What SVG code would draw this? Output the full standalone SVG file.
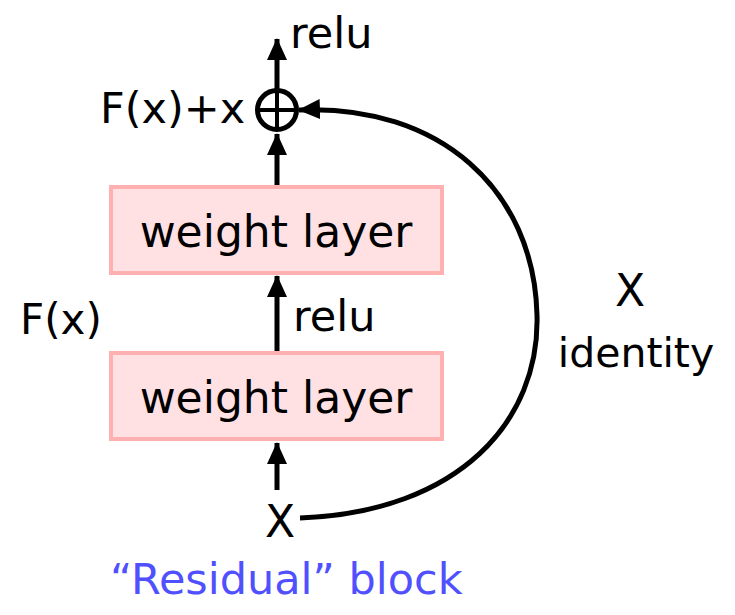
<svg xmlns="http://www.w3.org/2000/svg" width="735" height="615" viewBox="0 0 735 615">
<style>
.t{font-family:"DejaVu Sans","Noto Sans CJK KR",sans-serif;fill:#000}
.box{fill:#ffe1e3;stroke:#ffb1b1;stroke-width:4}
.ln{stroke:#000;stroke-width:5;fill:none}
</style>
<defs>
<marker id="ah" viewBox="0 0 22 20" refX="21" refY="10" markerWidth="22" markerHeight="20" markerUnits="userSpaceOnUse" orient="auto">
<path d="M0,0 L22,10 L0,20 Z" fill="#000"/>
</marker>
</defs>
<rect width="735" height="615" fill="#fff"/>
<g id="connectors">
<line class="ln" x1="277" y1="90" x2="277" y2="39" marker-end="url(#ah)"/>
<line class="ln" x1="277" y1="186" x2="277" y2="134" marker-end="url(#ah)"/>
<line class="ln" x1="277" y1="352" x2="277" y2="276" marker-end="url(#ah)"/>
<line class="ln" x1="277" y1="490" x2="277" y2="443" marker-end="url(#ah)"/>
<path class="ln" d="M300,518 C460,512 540,420 537,315 C534,190 440,104 299,110" marker-end="url(#ah)"/>
</g>
<g id="sum">
<circle cx="277" cy="110" r="19.5" fill="none" stroke="#000" stroke-width="5"/>
<line x1="258" y1="110" x2="296" y2="110" stroke="#000" stroke-width="4"/>
<line x1="277" y1="91" x2="277" y2="129" stroke="#000" stroke-width="4"/>
</g>
<g id="weight1">
<rect class="box" x="111" y="187" width="331" height="86"/>
<text class="t" x="276" y="247" font-size="44" text-anchor="middle">weight layer</text>
</g>
<g id="weight2">
<rect class="box" x="111" y="353" width="331" height="86"/>
<text class="t" x="276" y="413" font-size="44" text-anchor="middle">weight layer</text>
</g>
<g id="labels">
<text class="t" x="290" y="48" font-size="43">relu</text>
<text class="t" x="100" y="123" font-size="43">F(x)+x</text>
<text class="t" x="20" y="334" font-size="42">F(x)</text>
<text class="t" x="293" y="331" font-size="43">relu</text>
<text class="t" x="630" y="306" font-size="44" text-anchor="middle">X</text>
<text class="t" x="636" y="367" font-size="41" text-anchor="middle">identity</text>
<text class="t" x="280" y="537" font-size="44" text-anchor="middle">X</text>
<text class="t" x="110" y="594" font-size="43" style="fill:#5050ff">“Residual” block</text>
</g>
</svg>
